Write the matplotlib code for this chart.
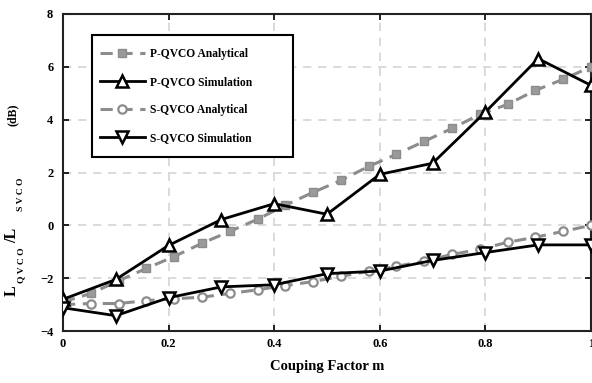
import matplotlib
matplotlib.use("Agg")
import matplotlib.pyplot as plt
from matplotlib.patches import Rectangle
import numpy as np

# coupling factor grids
m_analytical = np.linspace(0, 1, 20)
m_sim = np.round(np.arange(0, 1.01, 0.1), 2)

# noise ratio L_QVCO / L_SVCO in dB
p_analytical = [-2.9, -2.58, -2.1, -1.63, -1.18, -0.68, -0.23, 0.23, 0.76, 1.25,
                1.70, 2.23, 2.69, 3.18, 3.67, 4.20, 4.58, 5.11, 5.53, 6.0]
p_sim = [-2.8, -2.05, -0.76, 0.22, 0.82, 0.42, 1.93, 2.35, 4.29, 6.31, 5.3]
s_analytical = [-3.0, -2.96, -2.96, -2.85, -2.78, -2.72, -2.58, -2.44, -2.28, -2.13,
                -1.93, -1.74, -1.55, -1.36, -1.10, -0.91, -0.64, -0.45, -0.23, 0.0]
s_sim = [-3.12, -3.42, -2.74, -2.33, -2.25, -1.83, -1.73, -1.33, -1.03, -0.74, -0.74]

x_ticks = [0, 0.2, 0.4, 0.6, 0.8, 1]
x_tick_labels = ["0", "0.2", "0.4", "0.6", "0.8", "1"]
y_ticks = [-4, -2, 0, 2, 4, 6, 8]

plt.rcParams["font.family"] = ["Liberation Serif", "DejaVu Serif"]
plt.rcParams["font.weight"] = "bold"

W, H = 592, 383
fig = plt.figure(figsize=(W / 100, H / 100), dpi=100)
ax = fig.add_axes([63 / W, 52 / H, 528 / W, 317 / H])


def px(x, y):
    # pixel position from the top-left corner -> figure fraction
    return x / W, 1 - y / H


gray = "#8c8c8c"
ax.plot(m_analytical, p_analytical, linestyle=(0, (4, 2.5)), color=gray, lw=2.2,
        marker="s", ms=5.5, mfc="#9a9a9a", mec=gray, mew=1.0, label="P-QVCO Analytical", zorder=3)
ax.plot(m_sim, p_sim, color="black", lw=2.0, marker="^", ms=8, mfc="white",
        mec="black", mew=1.8, label="P-QVCO Simulation", zorder=4)
ax.plot(m_analytical, s_analytical, linestyle=(0, (4, 2.5)), color=gray, lw=2.2,
        marker="o", ms=6, mfc="white", mec=gray, mew=1.6, label="S-QVCO Analytical", zorder=3)
ax.plot(m_sim, s_sim, color="black", lw=2.0, marker="v", ms=8, mfc="white",
        mec="black", mew=1.8, label="S-QVCO Simulation", zorder=4)

ax.set_xlim(0, 1)
ax.set_ylim(-4, 8)
ax.set_xticks(x_ticks)
ax.set_xticklabels(x_tick_labels)
ax.set_yticks(y_ticks)
ax.grid(True, color="#d4d4d4", linestyle=(0, (5, 4)), lw=1.2)
ax.tick_params(direction="in", top=True, right=True, length=4, width=1.2,
               labelsize=9, pad=7)
ax.tick_params(axis="x", pad=5)
for lbl in ax.get_xticklabels() + ax.get_yticklabels():
    lbl.set_fontweight("bold")
for sp in ax.spines.values():
    sp.set_linewidth(1.5)
    sp.set_color("#222222")

ax.set_xlabel("Couping Factor m", fontsize=10.5, fontweight="bold", labelpad=7)

# y label built from pieces (big L, small spaced subscripts)
ylabel_parts = [("L", 12, 291, 11.5), ("Q V C O", 21, 265, 6.8), ("/L", 12, 235, 11.5),
                ("S V C O", 21, 194, 6.8), ("(dB)", 13, 115, 8.5)]
for txt, x, y, fs in ylabel_parts:
    fig.text(*px(x, y), txt, rotation=90, ha="center", va="center",
             fontsize=fs, fontweight="bold")

# legend: white box with black frame, entries placed inside
x0, y0 = px(92, 157)
ax.add_artist(Rectangle((x0, y0), 201 / W, 122 / H, transform=fig.transFigure,
                        facecolor="white", edgecolor="black", lw=1.5, zorder=5))
leg = ax.legend(loc="upper left", bbox_to_anchor=px(100, 48), bbox_transform=fig.transFigure,
                fontsize=8.3, frameon=False, handlelength=3.9, labelspacing=1.4,
                borderpad=0, handletextpad=0.4, borderaxespad=0)
leg.set_zorder(6)
for t in leg.get_texts():
    t.set_fontweight("bold")

fig.savefig("out.png", dpi=100)
